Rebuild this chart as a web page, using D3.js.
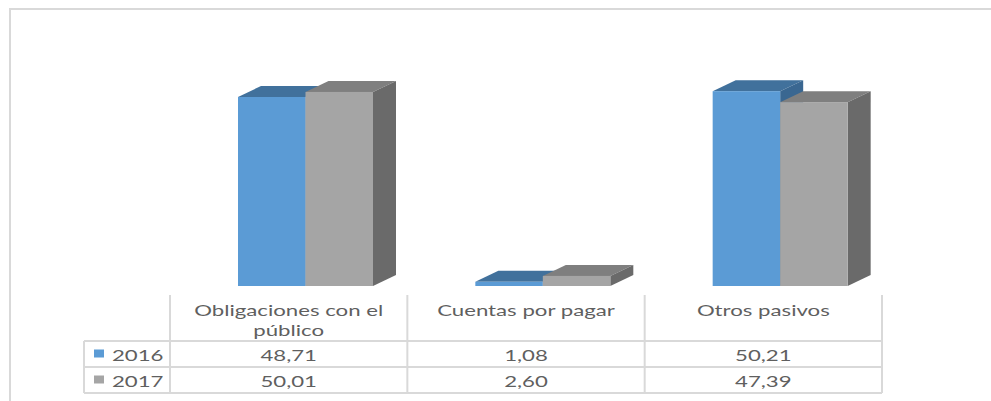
<!DOCTYPE html>
<html>
<head>
<meta charset="utf-8">
<script src="https://cdn.jsdelivr.net/npm/d3@7"></script>
<style>
  html, body { margin: 0; padding: 0; background: #fff; }
  svg { display: block; }
  text { font-family: Lato, "Open Sans", sans-serif; fill: #5f5f5f; }
</style>
</head>
<body>
<svg id="chart" width="991" height="401"></svg>
<script>
// Pasivos por rubro, 2016 vs 2017 (porcentaje)
const categories = ["Obligaciones con el público", "Cuentas por pagar", "Otros pasivos"];
const headerLines = [["Obligaciones con el", "público"], ["Cuentas por pagar"], ["Otros pasivos"]];
const seriesNames = ["2016", "2017"];
const values2016 = [48.71, 1.08, 50.21];
const values2017 = [50.01, 2.60, 47.39];
const valueLabels2016 = ["48,71", "1,08", "50,21"];
const valueLabels2017 = ["50,01", "2,60", "47,39"];

const series = [
  { name: seriesNames[0], values: values2016, labels: valueLabels2016,
    front: "#5B9BD5", top: "#41719C", side: "#3A6791" },
  { name: seriesNames[1], values: values2017, labels: valueLabels2017,
    front: "#A5A5A5", top: "#7F7F7F", side: "#6A6A6A" }
];

const svg = d3.select("#chart");
const W = 991, H = 401;

// outer frame (top and left edges)
svg.append("path")
  .attr("d", `M10,${H} L10,9 L${W},9`)
  .attr("fill", "none").attr("stroke", "#D9D9D9").attr("stroke-width", 2);

// layout
const tableLeft = 84, colLeft = 170, colRight = 882;
const baseY = 286;
const headerTop = 295, rowTop = 341, rowH = 26;
const depthX = 23, depthY = 11;

const x = d3.scaleBand().domain(categories).range([colLeft, colRight]).paddingInner(0).paddingOuter(0);
const xs = d3.scaleBand().domain(seriesNames).range([68, 68 + 135]);
const y = d3.scaleLinear().domain([0, 60]).range([baseY, baseY - 232.8]);

// 3D columns: draw each category left-to-right, series in order
const bars = svg.append("g");
categories.forEach((cat, ci) => {
  series.forEach(s => {
    const x0 = x(cat) + xs(s.name);
    const x1 = x0 + xs.bandwidth();
    const y0 = y(s.values[ci]);
    const yb = y(0);
    const g = bars.append("g");
    // top face
    g.append("path")
      .attr("d", `M${x0},${y0} L${x0 + depthX},${y0 - depthY} L${x1 + depthX},${y0 - depthY} L${x1},${y0} Z`)
      .attr("fill", s.top);
    // side face
    g.append("path")
      .attr("d", `M${x1},${y0} L${x1 + depthX},${y0 - depthY} L${x1 + depthX},${yb - depthY} L${x1},${yb} Z`)
      .attr("fill", s.side);
    // front face
    g.append("rect")
      .attr("x", x0).attr("y", y0)
      .attr("width", x1 - x0).attr("height", yb - y0)
      .attr("fill", s.front);
  });
});

// data table
const grid = svg.append("g").attr("stroke", "#D9D9D9").attr("stroke-width", 2).attr("fill", "none");
const rowYs = [rowTop, rowTop + rowH, rowTop + 2 * rowH];
rowYs.forEach(ry => {
  grid.append("line").attr("x1", tableLeft).attr("x2", colRight).attr("y1", ry).attr("y2", ry);
});
grid.append("line").attr("x1", tableLeft).attr("x2", tableLeft).attr("y1", rowTop).attr("y2", rowYs[2]);
const colEdges = categories.map(c => x(c)).concat([colRight]);
colEdges.forEach(cx => {
  grid.append("line").attr("x1", cx).attr("x2", cx).attr("y1", headerTop).attr("y2", rowYs[2]);
});

const sx = 1.48; // horizontal stretch of table text
function stretchedText(g, tx, ty, str, anchor) {
  return g.append("text")
    .attr("transform", `translate(${tx},${ty}) scale(${sx},1)`)
    .attr("text-anchor", anchor || "middle")
    .attr("font-size", 15)
    .text(str);
}

const txt = svg.append("g");
categories.forEach((cat, ci) => {
  const cx = x(cat) + x.bandwidth() / 2;
  headerLines[ci].forEach((line, li) => {
    stretchedText(txt, cx, 316 + li * 19.5, line);
  });
  series.forEach((s, si) => {
    stretchedText(txt, cx, rowTop + si * rowH + 19.5, s.labels[ci]);
  });
});

// legend keys in the table's first column
series.forEach((s, si) => {
  const ry = rowTop + si * rowH;
  txt.append("rect")
    .attr("x", 94).attr("y", ry + 8.5)
    .attr("width", 10).attr("height", 8)
    .attr("fill", s.front);
  stretchedText(txt, 112, ry + 19.5, s.name, "start");
});
</script>
</body>
</html>
